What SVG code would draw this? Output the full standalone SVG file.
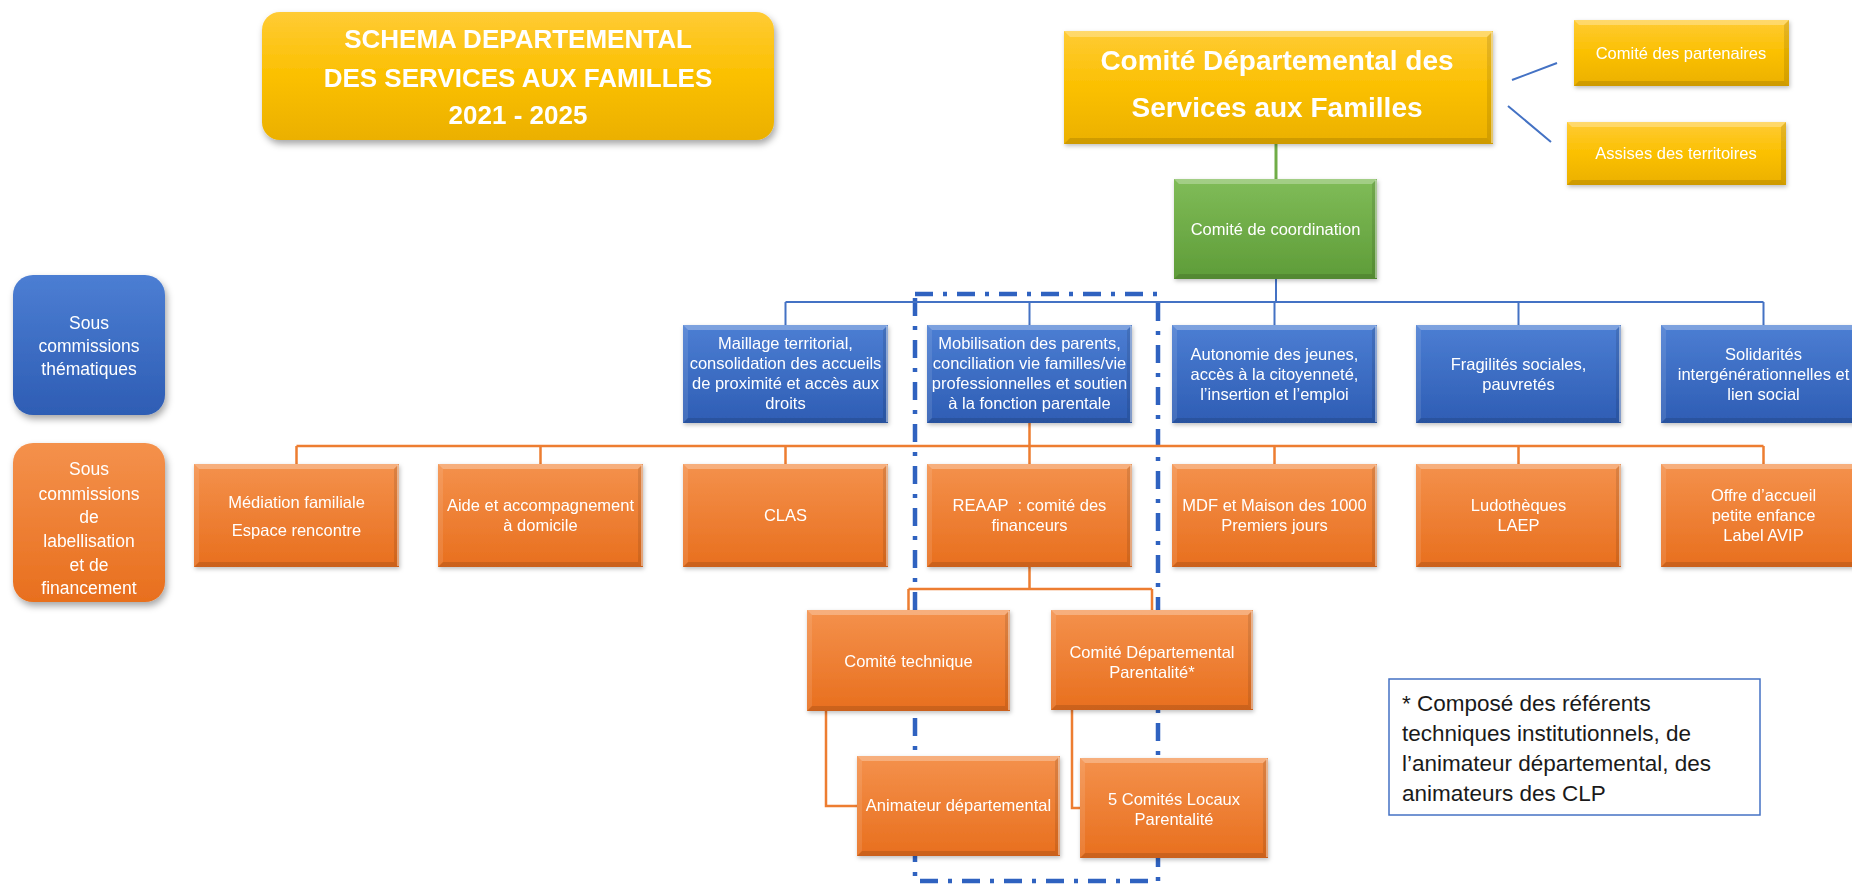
<svg xmlns="http://www.w3.org/2000/svg" xmlns:xlink="http://www.w3.org/1999/xlink" width="1852" height="885" viewBox="0 0 1852 885">
<defs>
<linearGradient id="gOr" x1="0" y1="0" x2="0" y2="1"><stop offset="0" stop-color="#F4914C"/><stop offset="1" stop-color="#E86F1E"/></linearGradient>
<linearGradient id="gBl" x1="0" y1="0" x2="0" y2="1"><stop offset="0" stop-color="#4C7ED3"/><stop offset="1" stop-color="#2E5DB4"/></linearGradient>
<linearGradient id="gGr" x1="0" y1="0" x2="0" y2="1"><stop offset="0" stop-color="#80BC58"/><stop offset="1" stop-color="#5E9C38"/></linearGradient>
<linearGradient id="gGd" x1="0" y1="0" x2="0" y2="1"><stop offset="0" stop-color="#FFCB35"/><stop offset="0.5" stop-color="#FBC000"/><stop offset="1" stop-color="#EBB000"/></linearGradient>
<filter id="sh" x="-10%" y="-10%" width="125%" height="130%"><feDropShadow dx="2" dy="4" stdDeviation="3.5" flood-color="#000" flood-opacity="0.35"/></filter>
<filter id="sh2" x="-10%" y="-10%" width="125%" height="130%"><feDropShadow dx="1" dy="2" stdDeviation="2" flood-color="#000" flood-opacity="0.25"/></filter>
<g id="ovB"><path class="bt" d="M0,0h205l-5,5h-195z"/><path class="bl" d="M0,0v98l5,-5v-88z"/><path class="bb" d="M0,98h205l-5,-5h-195z"/><path class="br" d="M205,0v98l-5,-5v-88z"/><path class="be" d="M204,1v96"/></g>
<g id="ovO"><path class="bt" d="M0,0h205l-5,5h-195z"/><path class="bl" d="M0,0v103l5,-5v-93z"/><path class="bb" d="M0,103h205l-5,-5h-195z"/><path class="br" d="M205,0v103l-5,-5v-93z"/><path class="be" d="M204,1v101"/></g>
<style>
.t{font-family:"Liberation Sans",Arial,sans-serif;font-size:16.5px;fill:#fff;text-anchor:middle}
.lab{font-family:"Liberation Sans",Arial,sans-serif;font-size:17.5px;fill:#fff;text-anchor:middle}
.big{font-family:"Liberation Sans",Arial,sans-serif;font-weight:bold;fill:#fff;text-anchor:middle}
.note{font-family:"Liberation Sans",Arial,sans-serif;font-size:22.5px;fill:#1a1a1a}
.o{fill:url(#gOr)}
.b{fill:url(#gBl)}
.g{fill:url(#gGr)}
.y{fill:url(#gGd)}
.bt{fill:#fff;opacity:.28}
.bl{fill:#fff;opacity:.1}
.bb{fill:#000;opacity:.12}
.br{fill:#000;opacity:.1}
.be{stroke:#fff;stroke-width:1.5;opacity:.55;fill:none}
.cb{stroke:#4472C4;stroke-width:2;fill:none}
.co{stroke:#ED7D31;stroke-width:2.5;fill:none}
.cg{stroke:#70AD47;stroke-width:3;fill:none}
.dash{stroke:#2F62C0;stroke-width:4.5;fill:none;stroke-dasharray:18 10 4 10}
</style>
</defs>
<rect width="1852" height="885" fill="#fff"/>

<g id="title" filter="url(#sh)">
<rect x="262" y="12" width="512" height="128" rx="18" class="y"/>
<text class="big" font-size="26" x="518" y="48">SCHEMA DEPARTEMENTAL</text>
<text class="big" font-size="26" x="518" y="87">DES SERVICES AUX FAMILLES</text>
<text class="big" font-size="26" x="518" y="124">2021 - 2025</text>
</g>

<g id="label-thematiques" filter="url(#sh)">
<rect x="13" y="275" width="152" height="140" rx="20" class="b"/>
<text class="lab" x="89" y="329">Sous</text>
<text class="lab" x="89" y="352">commissions</text>
<text class="lab" x="89" y="375">thématiques</text>
</g>

<g id="label-labellisation" filter="url(#sh)">
<rect x="13" y="443" width="152" height="159" rx="20" class="o"/>
<text class="lab" x="89" y="475">Sous</text>
<text class="lab" x="89" y="500">commissions</text>
<text class="lab" x="89" y="523">de</text>
<text class="lab" x="89" y="547">labellisation</text>
<text class="lab" x="89" y="571">et de</text>
<text class="lab" x="89" y="594">financement</text>
</g>

<rect id="dashed-frame" x="915" y="294" width="243" height="587" class="dash"/>

<g id="connectors">
<path class="cg" d="M1276,144V179"/>
<path class="cb" d="M1512,80L1557,63M1508,106L1551,142"/>
<path class="cb" stroke-width="3" d="M1276,279V302"/>
<path class="cb" d="M785.5,302H1763.5M785.5,302V325M1029.5,302V325M1274.5,302V325M1518.5,302V325M1763.5,302V325"/>
<path class="co" d="M1029.5,423V446M296.5,446H1763.5M296.5,446V464M540.5,446V464M785.5,446V464M1029.5,446V464M1274.5,446V464M1518.5,446V464M1763.5,446V464"/>
<path class="co" d="M1029.5,567V589M908.5,589H1152M908.5,589V610M1152,589V610"/>
<path class="co" d="M826,711V806H857M1072,710V808H1082"/>
</g>

<g id="comite-departemental" filter="url(#sh2)">
<rect x="1064" y="31" width="429" height="113" class="y"/>
<path class="bt" d="M1064,31h429l-6,6h-417z"/><path class="bb" d="M1064,144h429l-6,-6h-417z"/><path class="br" d="M1493,31v113l-6,-6v-101z"/><path class="be" d="M1492,32v111"/>
<text class="big" font-size="28" x="1277" y="70">Comité Départemental des</text>
<text class="big" font-size="28" x="1277" y="117">Services aux Familles</text>
</g>

<g id="comite-partenaires" filter="url(#sh2)">
<rect x="1574" y="20" width="215" height="66" class="y"/>
<path class="bt" d="M1574,20h215l-5,5h-205z"/><path class="bb" d="M1574,86h215l-5,-5h-205z"/><path class="br" d="M1789,20v66l-5,-5v-56z"/>
<text class="t" x="1681" y="59">Comité des partenaires</text>
</g>

<g id="assises" filter="url(#sh2)">
<rect x="1567" y="122" width="219" height="63" class="y"/>
<path class="bt" d="M1567,122h219l-5,5h-209z"/><path class="bb" d="M1567,185h219l-5,-5h-209z"/><path class="br" d="M1786,122v63l-5,-5v-53z"/>
<text class="t" x="1676" y="159">Assises des territoires</text>
</g>

<g id="comite-coordination" filter="url(#sh2)">
<rect x="1174" y="179" width="203" height="100" class="g"/>
<path class="bt" d="M1174,179h203l-5,5h-193z"/><path class="bb" d="M1174,279h203l-5,-5h-193z"/><path class="br" d="M1377,179v100l-5,-5v-90z"/><path class="be" d="M1376,180v98"/>
<text class="t" x="1275.5" y="235" font-size="17">Comité de coordination</text>
</g>

<g id="maillage" filter="url(#sh2)">
<rect x="683" y="325" width="205" height="98" class="b"/><use xlink:href="#ovB" x="683" y="325"/>
<text class="t" x="785.5" y="349">Maillage territorial,</text>
<text class="t" x="785.5" y="369">consolidation des accueils</text>
<text class="t" x="785.5" y="389">de proximité et accès aux</text>
<text class="t" x="785.5" y="409">droits</text>
</g>

<g id="mobilisation" filter="url(#sh2)">
<rect x="927" y="325" width="205" height="98" class="b"/><use xlink:href="#ovB" x="927" y="325"/>
<text class="t" x="1029.5" y="349">Mobilisation des parents,</text>
<text class="t" x="1029.5" y="369">conciliation vie familles/vie</text>
<text class="t" x="1029.5" y="389">professionnelles et soutien</text>
<text class="t" x="1029.5" y="409">à la fonction parentale</text>
</g>

<g id="autonomie" filter="url(#sh2)">
<rect x="1172" y="325" width="205" height="98" class="b"/><use xlink:href="#ovB" x="1172" y="325"/>
<text class="t" x="1274.5" y="360">Autonomie des jeunes,</text>
<text class="t" x="1274.5" y="380">accès à la citoyenneté,</text>
<text class="t" x="1274.5" y="400">l’insertion et l’emploi</text>
</g>

<g id="fragilites" filter="url(#sh2)">
<rect x="1416" y="325" width="205" height="98" class="b"/><use xlink:href="#ovB" x="1416" y="325"/>
<text class="t" x="1518.5" y="370">Fragilités sociales,</text>
<text class="t" x="1518.5" y="390">pauvretés</text>
</g>

<g id="solidarites" filter="url(#sh2)">
<rect x="1661" y="325" width="205" height="98" class="b"/><use xlink:href="#ovB" x="1661" y="325"/>
<text class="t" x="1763.5" y="360">Solidarités</text>
<text class="t" x="1763.5" y="380">intergénérationnelles et</text>
<text class="t" x="1763.5" y="400">lien social</text>
</g>

<g id="mediation" filter="url(#sh2)">
<rect x="194" y="464" width="205" height="103" class="o"/><use xlink:href="#ovO" x="194" y="464"/>
<text class="t" x="296.5" y="508">Médiation familiale</text>
<text class="t" x="296.5" y="536">Espace rencontre</text>
</g>

<g id="aide" filter="url(#sh2)">
<rect x="438" y="464" width="205" height="103" class="o"/><use xlink:href="#ovO" x="438" y="464"/>
<text class="t" x="540.5" y="511">Aide et accompagnement</text>
<text class="t" x="540.5" y="531">à domicile</text>
</g>

<g id="clas" filter="url(#sh2)">
<rect x="683" y="464" width="205" height="103" class="o"/><use xlink:href="#ovO" x="683" y="464"/>
<text class="t" x="785.5" y="521">CLAS</text>
</g>

<g id="reaap" filter="url(#sh2)">
<rect x="927" y="464" width="205" height="103" class="o"/><use xlink:href="#ovO" x="927" y="464"/>
<text class="t" x="1029.5" y="511" xml:space="preserve">REAAP  : comité des</text>
<text class="t" x="1029.5" y="531">financeurs</text>
</g>

<g id="mdf" filter="url(#sh2)">
<rect x="1172" y="464" width="205" height="103" class="o"/><use xlink:href="#ovO" x="1172" y="464"/>
<text class="t" x="1274.5" y="511">MDF et Maison des 1000</text>
<text class="t" x="1274.5" y="531">Premiers jours</text>
</g>

<g id="ludotheques" filter="url(#sh2)">
<rect x="1416" y="464" width="205" height="103" class="o"/><use xlink:href="#ovO" x="1416" y="464"/>
<text class="t" x="1518.5" y="511">Ludothèques</text>
<text class="t" x="1518.5" y="531">LAEP</text>
</g>

<g id="offre" filter="url(#sh2)">
<rect x="1661" y="464" width="205" height="103" class="o"/><use xlink:href="#ovO" x="1661" y="464"/>
<text class="t" x="1763.5" y="501">Offre d’accueil</text>
<text class="t" x="1763.5" y="521">petite enfance</text>
<text class="t" x="1763.5" y="541">Label AVIP</text>
</g>

<g id="comite-technique" filter="url(#sh2)">
<rect x="807" y="610" width="203" height="101" class="o"/>
<path class="bt" d="M807,610h203l-5,5h-193z"/><path class="bl" d="M807,610v101l5,-5v-91z"/><path class="bb" d="M807,711h203l-5,-5h-193z"/><path class="br" d="M1010,610v101l-5,-5v-91z"/><path class="be" d="M1009,611v99"/>
<text class="t" x="908.5" y="667">Comité technique</text>
</g>

<g id="comite-parentalite" filter="url(#sh2)">
<rect x="1051" y="610" width="202" height="100" class="o"/>
<path class="bt" d="M1051,610h202l-5,5h-192z"/><path class="bl" d="M1051,610v100l5,-5v-90z"/><path class="bb" d="M1051,710h202l-5,-5h-192z"/><path class="br" d="M1253,610v100l-5,-5v-90z"/><path class="be" d="M1252,611v98"/>
<text class="t" x="1152" y="658">Comité Départemental</text>
<text class="t" x="1152" y="678">Parentalité*</text>
</g>

<g id="animateur" filter="url(#sh2)">
<rect x="857" y="756" width="203" height="100" class="o"/>
<path class="bt" d="M857,756h203l-5,5h-193z"/><path class="bl" d="M857,756v100l5,-5v-90z"/><path class="bb" d="M857,856h203l-5,-5h-193z"/><path class="br" d="M1060,756v100l-5,-5v-90z"/><path class="be" d="M1059,757v98"/>
<text class="t" x="958.5" y="811">Animateur départemental</text>
</g>

<g id="comites-locaux" filter="url(#sh2)">
<rect x="1080" y="758" width="188" height="100" class="o"/>
<path class="bt" d="M1080,758h188l-5,5h-178z"/><path class="bl" d="M1080,758v100l5,-5v-90z"/><path class="bb" d="M1080,858h188l-5,-5h-178z"/><path class="br" d="M1268,758v100l-5,-5v-90z"/><path class="be" d="M1267,759v98"/>
<text class="t" x="1174" y="805">5 Comités Locaux</text>
<text class="t" x="1174" y="825">Parentalité</text>
</g>

<g id="note">
<rect x="1389" y="679" width="371" height="136" fill="#fff" stroke="#4472C4" stroke-width="1.5"/>
<text class="note" x="1402" y="711">* Composé des référents</text>
<text class="note" x="1402" y="741">techniques institutionnels, de</text>
<text class="note" x="1402" y="771">l’animateur départemental, des</text>
<text class="note" x="1402" y="801">animateurs des CLP</text>
</g>
</svg>
